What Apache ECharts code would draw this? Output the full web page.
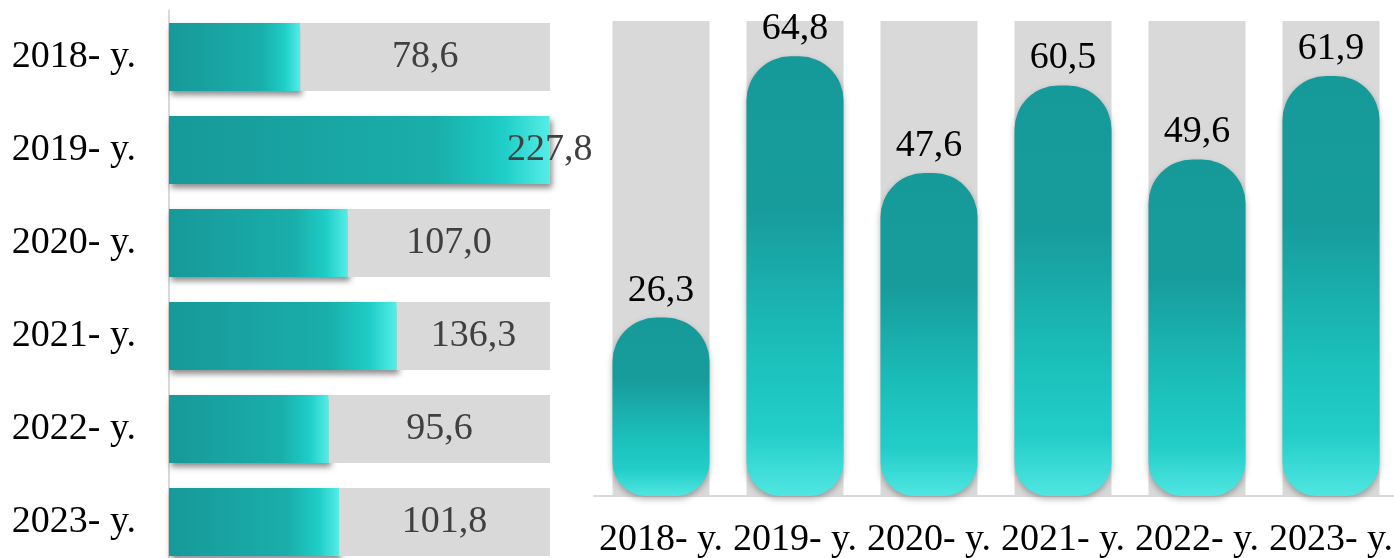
<!DOCTYPE html>
<html>
<head>
<meta charset="utf-8">
<script src="https://cdn.jsdelivr.net/npm/echarts@6/dist/echarts.min.js"></script>
<style>
  html, body { margin: 0; padding: 0; background: #fff; }
  #chart { width: 1394px; height: 558px; }
</style>
</head>
<body>
<div id="chart"></div>
<script>
// data
const years = ['2018- y.', '2019- y.', '2020- y.', '2021- y.', '2022- y.', '2023- y.'];
const leftValues = [78.6, 227.8, 107.0, 136.3, 95.6, 101.8];
const rightValues = [26.3, 64.8, 47.6, 60.5, 49.6, 61.9];
const leftMax = 228;
const rightMax = 70;

const font = "'Liberation Serif', 'Times New Roman', serif";
const fmt = v => v.toFixed(1).replace('.', ',');

// gray remainder so the value label sits in the gray part
const leftRest = leftValues.map(v => +(leftMax - v).toFixed(1));

const hGrad = new echarts.graphic.LinearGradient(0, 0, 1, 0, [
  { offset: 0, color: '#169999' },
  { offset: 0.7, color: '#1aaeaa' },
  { offset: 0.88, color: '#1ecec7' },
  { offset: 1, color: '#55ede6' }
]);
const vGrad = new echarts.graphic.LinearGradient(0, 0, 0, 1, [
  { offset: 0, color: '#169999' },
  { offset: 0.35, color: '#179c9c' },
  { offset: 0.7, color: '#1cc2bd' },
  { offset: 0.85, color: '#22cdc8' },
  { offset: 1, color: '#50e6e1' }
]);

var chart = echarts.init(document.getElementById('chart'));
var option = {
  animation: false,
  textStyle: { fontFamily: font },
  grid: [
    { left: 169, width: 381, top: 10.5, height: 558, outerBoundsMode: 'none' },
    { left: 594, right: -4, top: 21, bottom: 62, outerBoundsMode: 'none' }
  ],
  xAxis: [
    { gridIndex: 0, type: 'value', min: 0, max: leftMax, show: false },
    {
      gridIndex: 1, type: 'category', data: years,
      axisLine: { lineStyle: { color: '#d9d9d9', width: 2 } },
      axisTick: { show: false },
      axisLabel: { interval: 0, margin: 25, color: '#000', fontSize: 38, fontFamily: font }
    }
  ],
  yAxis: [
    {
      gridIndex: 0, type: 'category', data: years, inverse: true,
      axisLine: { lineStyle: { color: '#d9d9d9', width: 2 } },
      axisTick: { show: false },
      axisLabel: { margin: 33, color: '#000', fontSize: 38, fontFamily: font }
    },
    { gridIndex: 1, type: 'value', min: 0, max: rightMax, show: false }
  ],
  series: [
    {
      type: 'bar', xAxisIndex: 0, yAxisIndex: 0, stack: 'left',
      data: leftValues, barWidth: 68,
      itemStyle: {
        color: hGrad,
        shadowColor: 'rgba(0,0,0,0.45)', shadowBlur: 6,
        shadowOffsetX: 2, shadowOffsetY: 4
      },
      z: 2
    },
    {
      type: 'bar', xAxisIndex: 0, yAxisIndex: 0, stack: 'left',
      data: leftRest, barWidth: 68,
      itemStyle: { color: '#d9d9d9' },
      label: {
        show: true, position: 'inside',
        color: '#404040', fontSize: 38, fontFamily: font,
        formatter: p => fmt(leftValues[p.dataIndex])
      },
      z: 3
    },
    {
      type: 'bar', xAxisIndex: 1, yAxisIndex: 1,
      data: rightValues, barWidth: 97,
      showBackground: true,
      backgroundStyle: { color: '#d9d9d9' },
      itemStyle: {
        color: vGrad,
        borderRadius: [44, 44, 34, 34],
        shadowColor: 'rgba(0,0,0,0.3)', shadowBlur: 6, shadowOffsetY: 3
      },
      label: {
        show: true, position: 'top', distance: 8,
        color: '#000', fontSize: 38, fontFamily: font,
        formatter: p => fmt(p.value)
      }
    }
  ]
};
chart.setOption(option);
</script>
</body>
</html>
